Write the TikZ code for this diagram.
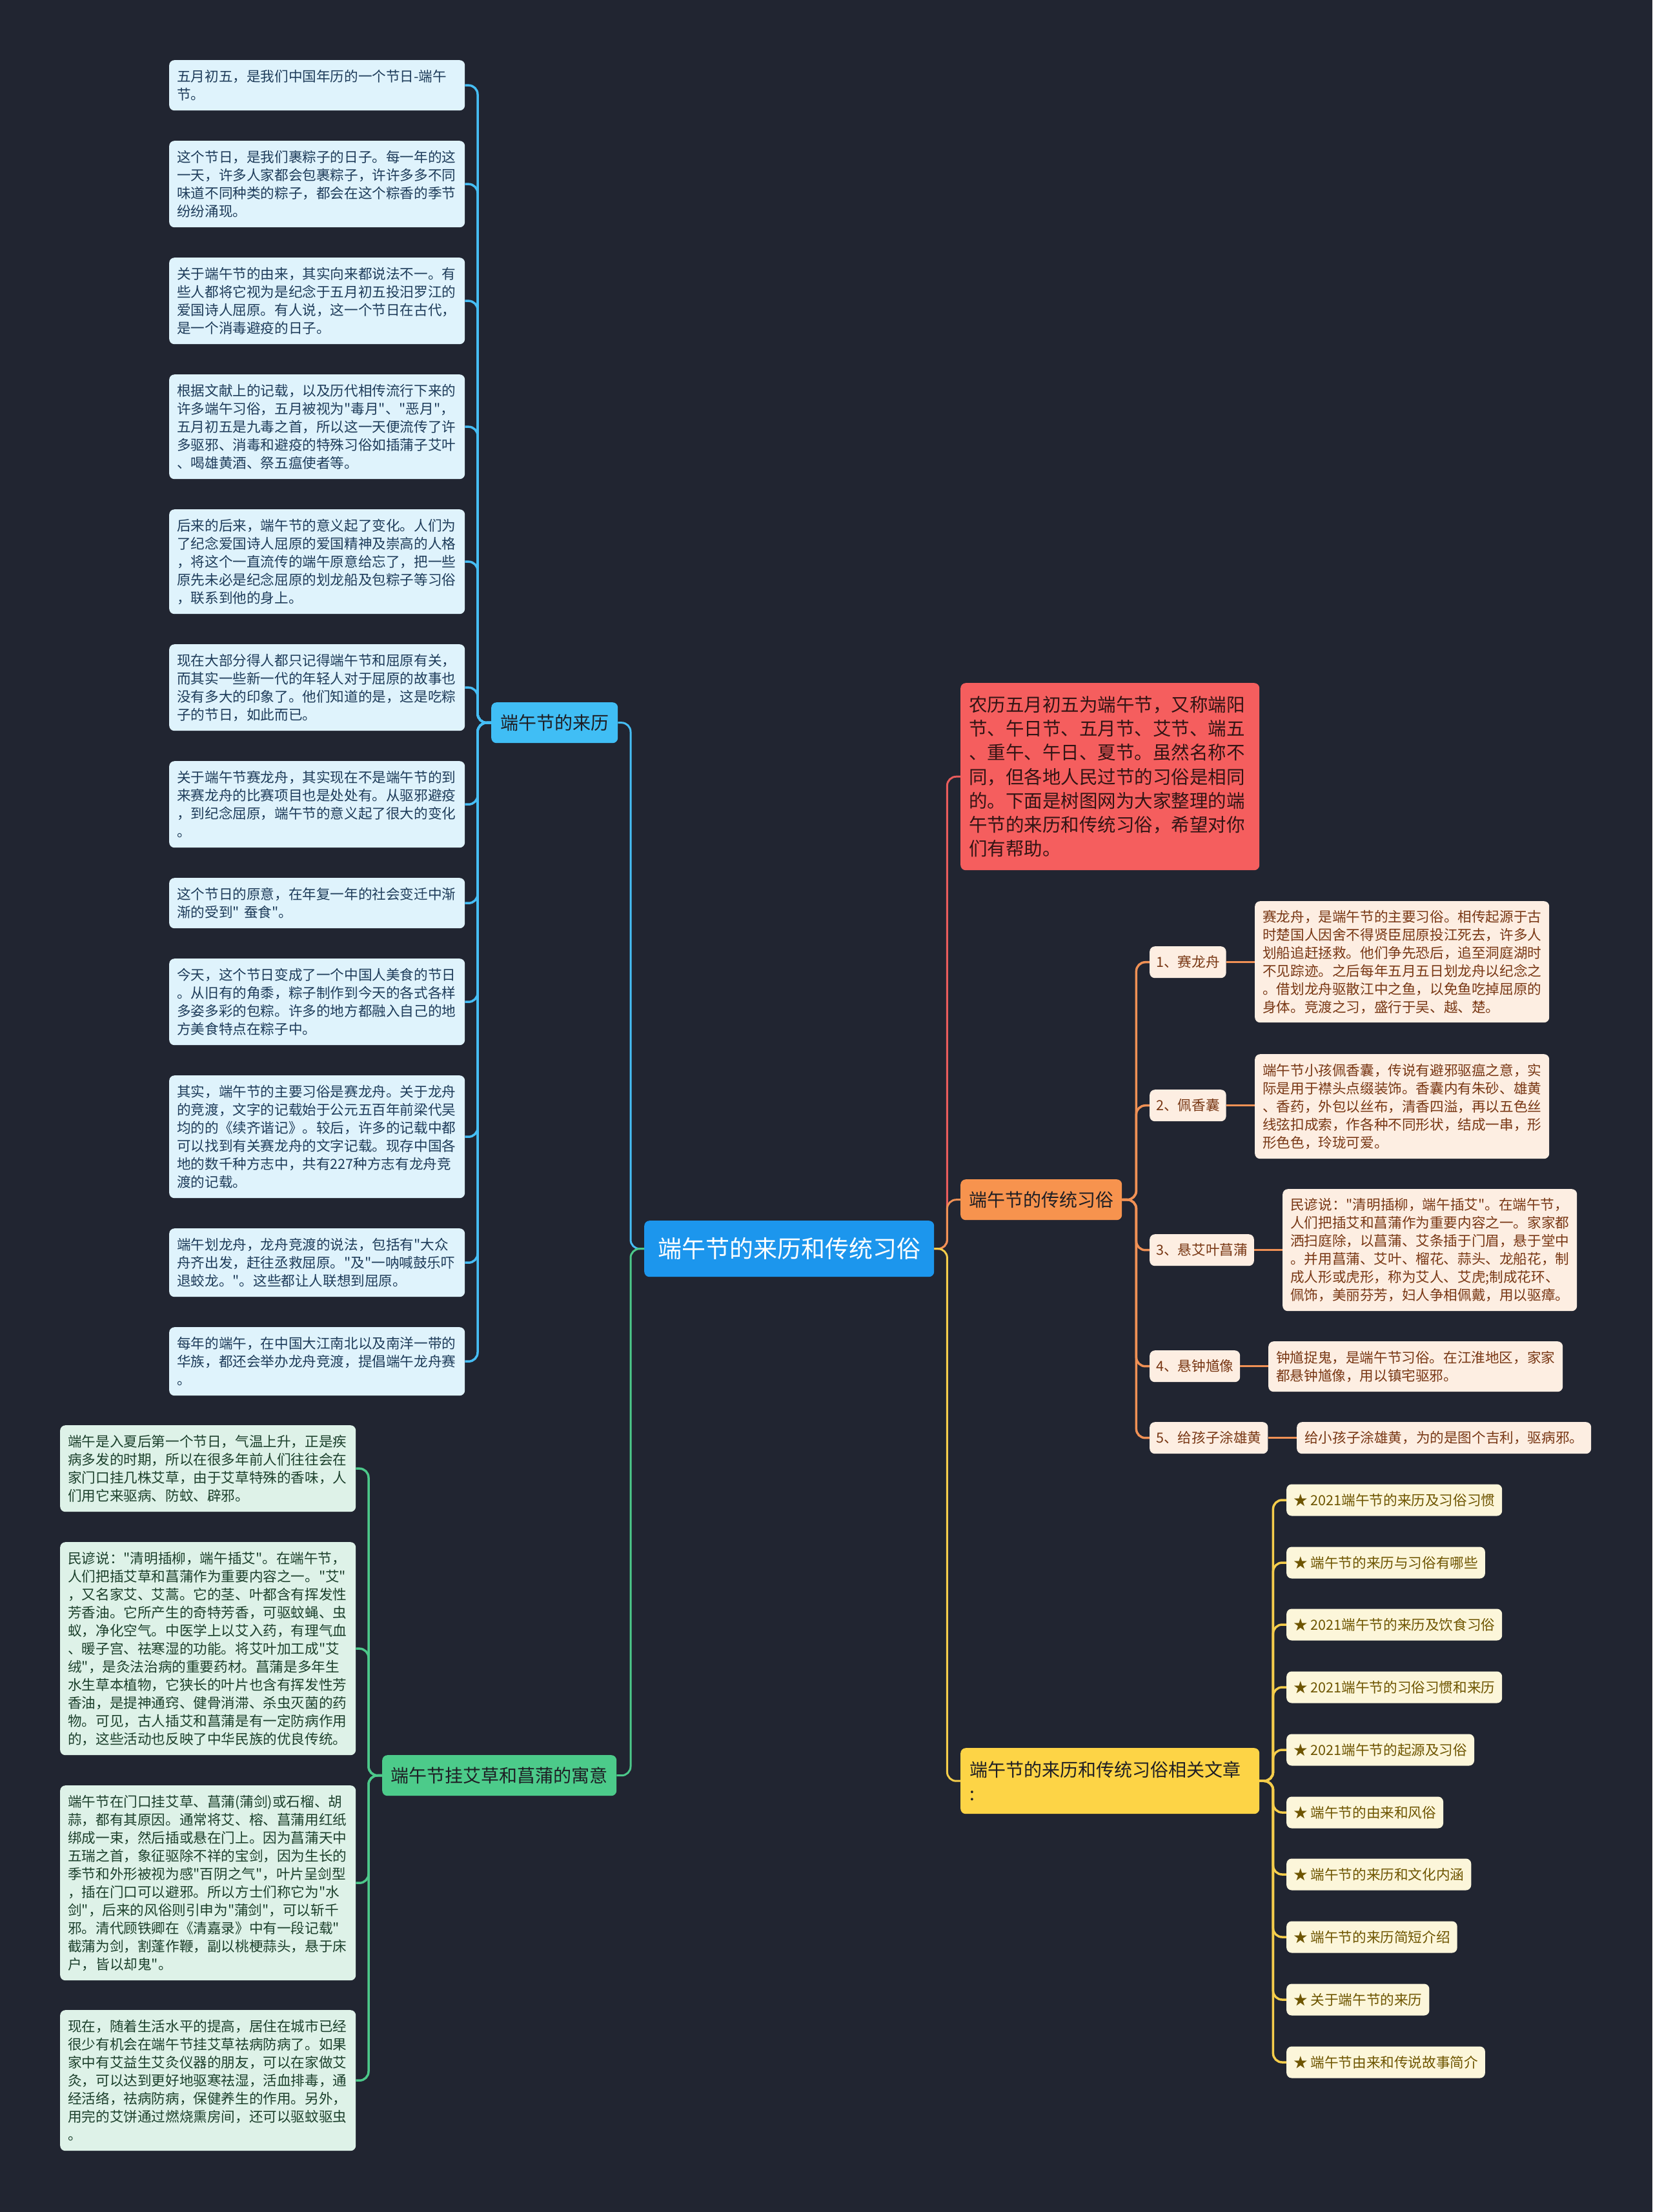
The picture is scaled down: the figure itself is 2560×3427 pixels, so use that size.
\documentclass[tikz,border=0pt]{standalone}
\usepackage{fontspec}
\setmainfont{Noto Sans CJK SC}
\newfontfamily\cjkmain{Noto Sans CJK SC}
\definecolor{bg}{RGB}{33,37,49}
\definecolor{cfill}{RGB}{28,150,237}
\definecolor{bfill}{RGB}{64,190,245}
\definecolor{bline}{RGB}{70,190,245}
\definecolor{lfill}{RGB}{223,243,252}
\definecolor{ltext}{RGB}{30,60,90}
\definecolor{gfill}{RGB}{76,203,138}
\definecolor{gline}{RGB}{76,200,138}
\definecolor{gifill}{RGB}{222,242,232}
\definecolor{gtext}{RGB}{28,64,44}
\definecolor{rfill}{RGB}{245,94,94}
\definecolor{rline}{RGB}{232,92,92}
\definecolor{rtext}{RGB}{50,20,20}
\definecolor{ofill}{RGB}{247,147,78}
\definecolor{oline}{RGB}{240,145,85}
\definecolor{oifill}{RGB}{253,238,226}
\definecolor{oitext}{RGB}{120,55,20}
\definecolor{yfill}{RGB}{253,212,70}
\definecolor{yline}{RGB}{245,205,75}
\definecolor{yifill}{RGB}{252,246,218}
\definecolor{yitext}{RGB}{110,85,0}
\definecolor{darktext}{RGB}{30,30,36}
\newcommand\fA{\cjkmain\fontsize{21.6}{28}\selectfont}
\newcommand\fB{\cjkmain\fontsize{28}{37}\selectfont}
\newcommand\fC{\cjkmain\fontsize{37}{44}\selectfont}
\newcommand\fR{\cjkmain\fontsize{28.5}{37.3}\selectfont}
\begin{document}
\begin{tikzpicture}[x=1pt,y=-1pt,
  box/.style={anchor=north west, rounded corners=8, inner ysep=0, align=left},
  rootbox/.style={box, fill=cfill, text=white, font=\fC, minimum height=87, inner xsep=0, text width=449, align=center},
  branch/.style={box, text=darktext, font=\fB, minimum height=63, inner xsep=0, align=center},
  litem/.style={box, fill=lfill, text=ltext, inner xsep=12, text width=434, font=\fA},
  gitem/.style={box, fill=gifill, text=gtext, inner xsep=12, text width=434, font=\fA},
  olab/.style={box, fill=oifill, text=oitext, inner xsep=10, minimum height=49, font=\fA},
  odet/.style={box, fill=oifill, text=oitext, inner xsep=12, text width=432, font=\fA},
  yitem/.style={box, anchor=west, fill=yifill, text=yitext, inner xsep=11, minimum height=49, font=\fA},
  mainconn/.style={line width=3, rounded corners=14},
  subconn/.style={line width=3.5, rounded corners=14}
]
\fill[bg] (0,0) rectangle (2560,3427);
\useasboundingbox (0,0) rectangle (2560,3427);

% root
\node[rootbox] (root) at (998,1891) {端午节的来历和传统习俗};

% branches
\node[branch, fill=bfill, text width=196] (bl) at (761,1088) {端午节的来历};
\node[branch, fill=gfill, text width=363] (gb) at (592,2719) {端午节挂艾草和菖蒲的寓意};
\node[box, fill=rfill, text=rtext, font=\fR, inner xsep=13, text width=437, minimum height=290] (rb) at (1488,1058)
 {农历五月初五为端午节，又称端阳\\节、午日节、五月节、艾节、端五\\、重午、午日、夏节。虽然名称不\\同，但各地人民过节的习俗是相同\\的。下面是树图网为大家整理的端\\午节的来历和传统习俗，希望对你\\们有帮助。};
\node[branch, fill=ofill, text width=250] (ob) at (1488,1827) {端午节的传统习俗};
\node[box, fill=yfill, text=darktext, font=\fB, inner xsep=14, text width=435, minimum height=102] (yb) at (1488,2708)
 {端午节的来历和传统习俗相关文章\\:};

% left items (origin)
\node[litem, minimum height=78] (l1) at (262,93) {五月初五，是我们中国年历的一个节日-端午\\节。};
\node[litem, minimum height=134] (l2) at (262,218) {这个节日，是我们裹粽子的日子。每一年的这\\一天，许多人家都会包裹粽子，许许多多不同\\味道不同种类的粽子，都会在这个粽香的季节\\纷纷涌现。};
\node[litem, minimum height=134] (l3) at (262,399) {关于端午节的由来，其实向来都说法不一。有\\些人都将它视为是纪念于五月初五投汨罗江的\\爱国诗人屈原。有人说，这一个节日在古代，\\是一个消毒避疫的日子。};
\node[litem, minimum height=162] (l4) at (262,580) {根据文献上的记载，以及历代相传流行下来的\\许多端午习俗，五月被视为"毒月"、"恶月"，\\五月初五是九毒之首，所以这一天便流传了许\\多驱邪、消毒和避疫的特殊习俗如插蒲子艾叶\\、喝雄黄酒、祭五瘟使者等。};
\node[litem, minimum height=162] (l5) at (262,789) {后来的后来，端午节的意义起了变化。人们为\\了纪念爱国诗人屈原的爱国精神及崇高的人格\\，将这个一直流传的端午原意给忘了，把一些\\原先未必是纪念屈原的划龙船及包粽子等习俗\\，联系到他的身上。};
\node[litem, minimum height=134] (l6) at (262,998) {现在大部分得人都只记得端午节和屈原有关，\\而其实一些新一代的年轻人对于屈原的故事也\\没有多大的印象了。他们知道的是，这是吃粽\\子的节日，如此而已。};
\node[litem, minimum height=134] (l7) at (262,1179) {关于端午节赛龙舟，其实现在不是端午节的到\\来赛龙舟的比赛项目也是处处有。从驱邪避疫\\，到纪念屈原，端午节的意义起了很大的变化\\。};
\node[litem, minimum height=78] (l8) at (262,1360) {这个节日的原意，在年复一年的社会变迁中渐\\渐的受到" 蚕食"。};
\node[litem, minimum height=134] (l9) at (262,1485) {今天，这个节日变成了一个中国人美食的节日\\。从旧有的角黍，粽子制作到今天的各式各样\\多姿多彩的包粽。许多的地方都融入自己的地\\方美食特点在粽子中。};
\node[litem, minimum height=190] (l10) at (262,1666) {其实，端午节的主要习俗是赛龙舟。关于龙舟\\的竞渡，文字的记载始于公元五百年前梁代吴\\均的的《续齐谐记》。较后，许多的记载中都\\可以找到有关赛龙舟的文字记载。现存中国各\\地的数千种方志中，共有227种方志有龙舟竞\\渡的记载。};
\node[litem, minimum height=106] (l11) at (262,1903) {端午划龙舟，龙舟竞渡的说法，包括有"大众\\舟齐出发，赶往丞救屈原。"及"一呐喊鼓乐吓\\退蛟龙。"。这些都让人联想到屈原。};
\node[litem, minimum height=106] (l12) at (262,2056) {每年的端午，在中国大江南北以及南洋一带的\\华族，都还会举办龙舟竞渡，提倡端午龙舟赛\\。};

% green items
\node[gitem, minimum height=134] (g1) at (93,2208) {端午是入夏后第一个节日，气温上升，正是疾\\病多发的时期，所以在很多年前人们往往会在\\家门口挂几株艾草，由于艾草特殊的香味，人\\们用它来驱病、防蚊、辟邪。};
\node[gitem, minimum height=330] (g2) at (93,2389) {民谚说："清明插柳，端午插艾"。在端午节，\\人们把插艾草和菖蒲作为重要内容之一。"艾"\\，又名家艾、艾蒿。它的茎、叶都含有挥发性\\芳香油。它所产生的奇特芳香，可驱蚊蝇、虫\\蚁，净化空气。中医学上以艾入药，有理气血\\、暖子宫、祛寒湿的功能。将艾叶加工成"艾\\绒"，是灸法治病的重要药材。菖蒲是多年生\\水生草本植物，它狭长的叶片也含有挥发性芳\\香油，是提神通窍、健骨消滞、杀虫灭菌的药\\物。可见，古人插艾和菖蒲是有一定防病作用\\的，这些活动也反映了中华民族的优良传统。};
\node[gitem, minimum height=302] (g3) at (93,2766) {端午节在门口挂艾草、菖蒲(蒲剑)或石榴、胡\\蒜，都有其原因。通常将艾、榕、菖蒲用红纸\\绑成一束，然后插或悬在门上。因为菖蒲天中\\五瑞之首，象征驱除不祥的宝剑，因为生长的\\季节和外形被视为感"百阴之气"，叶片呈剑型\\，插在门口可以避邪。所以方士们称它为"水\\剑"，后来的风俗则引申为"蒲剑"，可以斩千\\邪。清代顾铁卿在《清嘉录》中有一段记载"\\截蒲为剑，割蓬作鞭，副以桃梗蒜头，悬于床\\户，皆以却鬼"。};
\node[gitem, minimum height=218] (g4) at (93,3114) {现在，随着生活水平的提高，居住在城市已经\\很少有机会在端午节挂艾草祛病防病了。如果\\家中有艾益生艾灸仪器的朋友，可以在家做艾\\灸，可以达到更好地驱寒祛湿，活血排毒，通\\经活络，祛病防病，保健养生的作用。另外，\\用完的艾饼通过燃烧熏房间，还可以驱蚊驱虫\\。};

% orange labels and details
\node[olab] (o1) at (1781,1466) {1、赛龙舟};
\node[olab] (o2) at (1781,1688) {2、佩香囊};
\node[olab] (o3) at (1781,1912) {3、悬艾叶菖蒲};
\node[olab] (o4) at (1781,2092) {4、悬钟馗像};
\node[olab] (o5) at (1781,2203) {5、给孩子涂雄黄};
\node[odet, minimum height=188] (d1) at (1944,1396) {赛龙舟，是端午节的主要习俗。相传起源于古\\时楚国人因舍不得贤臣屈原投江死去，许多人\\划船追赶拯救。他们争先恐后，追至洞庭湖时\\不见踪迹。之后每年五月五日划龙舟以纪念之\\。借划龙舟驱散江中之鱼，以免鱼吃掉屈原的\\身体。竞渡之习，盛行于吴、越、楚。};
\node[odet, minimum height=162] (d2) at (1944,1633) {端午节小孩佩香囊，传说有避邪驱瘟之意，实\\际是用于襟头点缀装饰。香囊内有朱砂、雄黄\\、香药，外包以丝布，清香四溢，再以五色丝\\线弦扣成索，作各种不同形状，结成一串，形\\形色色，玲珑可爱。};
\node[odet, minimum height=189] (d3) at (1987,1842) {民谚说："清明插柳，端午插艾"。在端午节，\\人们把插艾和菖蒲作为重要内容之一。家家都\\洒扫庭除，以菖蒲、艾条插于门眉，悬于堂中\\。并用菖蒲、艾叶、榴花、蒜头、龙船花，制\\成人形或虎形，称为艾人、艾虎;制成花环、\\佩饰，美丽芬芳，妇人争相佩戴，用以驱瘴。};
\node[odet, minimum height=78] (d4) at (1965,2078) {钟馗捉鬼，是端午节习俗。在江淮地区，家家\\都悬钟馗像，用以镇宅驱邪。};
\node[odet, minimum height=49] (d5) at (2009,2203) {给小孩子涂雄黄，为的是图个吉利，驱病邪。};

% yellow items
\node[yitem] (y1) at (1993,2324) {★ 2021端午节的来历及习俗习惯};
\node[yitem] (y2) at (1993,2421) {★ 端午节的来历与习俗有哪些};
\node[yitem] (y3) at (1993,2517) {★ 2021端午节的来历及饮食习俗};
\node[yitem] (y4) at (1993,2614) {★ 2021端午节的习俗习惯和来历};
\node[yitem] (y5) at (1993,2711) {★ 2021端午节的起源及习俗};
\node[yitem] (y6) at (1993,2808) {★ 端午节的由来和风俗};
\node[yitem] (y7) at (1993,2904) {★ 端午节的来历和文化内涵};
\node[yitem] (y8) at (1993,3001) {★ 端午节的来历简短介绍};
\node[yitem] (y9) at (1993,3098) {★ 关于端午节的来历};
\node[yitem] (y10) at (1993,3195) {★ 端午节由来和传说故事简介};

% main connectors
\draw[mainconn, bline] (root.west) -- ++(-21,0) |- (bl.east);
\draw[mainconn, gline] (root.west) -- ++(-21,0) |- (gb.east);
\draw[mainconn, rline] (root.east) -- ++(20,0) |- (rb.west);
\draw[mainconn, oline] (root.east) -- ++(20,0) |- (ob.west);
\draw[mainconn, yline] (root.east) -- ++(20,0) |- (yb.west);

% blue sub connectors
\foreach \n in {l1,l2,l3,l4,l5,l6,l7,l8,l9,l10,l11,l12}
  \draw[subconn, bline] (bl.west) -- ++(-21,0) |- (\n.east);
% green sub connectors
\foreach \n in {g1,g2,g3,g4}
  \draw[subconn, gline] (gb.west) -- ++(-21,0) |- (\n.east);
% orange sub connectors
\foreach \n in {o1,o2,o3,o4,o5}
  \draw[subconn, oline] (ob.east) -- ++(22,0) |- (\n.west);
\foreach \a/\b in {o1/d1,o2/d2,o3/d3,o4/d4,o5/d5}
  \draw[subconn, oline] (\a.east) -- (\a.east -| \b.west);
% yellow sub connectors
\foreach \n in {y1,y2,y3,y4,y5,y6,y7,y8,y9,y10}
  \draw[subconn, yline] (yb.east) -- ++(21,0) |- (\n.west);
\end{tikzpicture}
\end{document}
